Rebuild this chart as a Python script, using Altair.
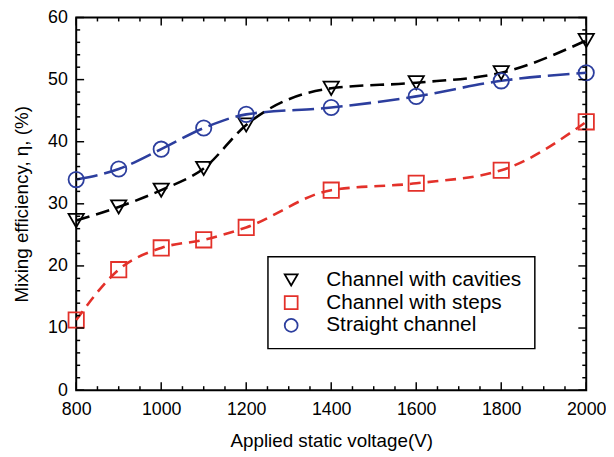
import altair as alt
import pandas as pd

# ---- data ----
voltage = [800, 900, 1000, 1100, 1200, 1400, 1600, 1800, 2000]
series_names = ["Channel with cavities", "Channel with steps", "Straight channel"]
cavities = [27.3, 29.5, 32.2, 35.7, 42.7, 48.6, 49.5, 51.1, 56.3]
steps = [11.3, 19.4, 22.9, 24.2, 26.2, 32.2, 33.3, 35.4, 43.2]
straight = [33.9, 35.6, 38.8, 42.2, 44.4, 45.5, 47.3, 49.8, 51.1]

x_major = [800, 1000, 1200, 1400, 1600, 1800, 2000]
x_minor = [v for v in range(800, 2001, 50) if v not in x_major]
y_major = [0, 10, 20, 30, 40, 50, 60]
y_minor = [v for v in range(0, 61, 2) if v not in y_major]

colors = ["#000000", "#e3312a", "#2c3e9e"]
shapes = ["triangle-down", "square", "circle"]
dashes = [[14, 7], [11, 7], [22, 7]]

rows = []
for name, vals in zip(series_names, [cavities, steps, straight]):
    for v, e in zip(voltage, vals):
        rows.append({"series": name, "voltage": v, "eff": e})
df = pd.DataFrame(rows)

W, H = 516, 377
FONT = "Liberation Sans"
xscale = alt.Scale(domain=[800, 2000], nice=False, zero=False)
yscale = alt.Scale(domain=[0, 60], nice=False, zero=False)

x_axis = alt.Axis(title="Applied static voltage(V)", values=x_major, format="d",
                  ticks=False, domain=False, grid=False, labelFlush=False,
                  labelFontSize=18, titleFontSize=19, labelPadding=11, titlePadding=13,
                  labelColor="black", titleColor="black", titleFontWeight="normal",
                  labelFont=FONT, titleFont=FONT)
y_axis = alt.Axis(title="Mixing efficiency, η, (%)", values=y_major, format="d",
                  ticks=False, domain=False, grid=False, labelFlush=False,
                  labelFontSize=18, titleFontSize=19, labelPadding=9, titlePadding=16,
                  labelColor="black", titleColor="black", titleFontWeight="normal",
                  labelFont=FONT, titleFont=FONT)
x_enc = alt.X("voltage:Q", scale=xscale, axis=x_axis)
y_enc = alt.Y("eff:Q", scale=yscale, axis=y_axis)

layers = []

# curves
for name, c, d in zip(series_names, colors, dashes):
    layers.append(
        alt.Chart(df[df["series"] == name]).mark_line(
            color=c, strokeDash=d, strokeWidth=2.6, interpolate="monotone"
        ).encode(x=x_enc, y=y_enc)
    )

legend = alt.Legend(
    title=None, orient="none", legendX=194, legendY=242,
    strokeColor="black", fillColor="white", padding=13,
    labelFontSize=21, labelFont=FONT, labelColor="black", labelLimit=400,
    symbolSize=170, symbolStrokeWidth=1.8, labelOffset=25, rowPadding=1,
)

# markers with legend
points = alt.Chart(df).mark_point(filled=False, size=240, strokeWidth=1.8, opacity=1).encode(
    x=x_enc, y=y_enc,
    color=alt.Color("series:N", scale=alt.Scale(domain=series_names, range=colors),
                    legend=legend),
    shape=alt.Shape("series:N", scale=alt.Scale(domain=series_names, range=shapes),
                    legend=legend),
)
layers.append(points)

# inward ticks on all four sides
def tick_layer(vals, axis, side, length):
    if axis == "x":
        d = pd.DataFrame({"voltage": vals})
        y0 = H if side == "bottom" else 0
        y1 = H - length if side == "bottom" else length
        enc = dict(x=x_enc, y=alt.value(y0), y2=alt.value(y1))
    else:
        d = pd.DataFrame({"eff": vals})
        x0 = 0 if side == "left" else W
        x1 = length if side == "left" else W - length
        enc = dict(y=y_enc, x=alt.value(x0), x2=alt.value(x1))
    return alt.Chart(d).mark_rule(color="black", strokeWidth=1.5).encode(**enc)

for side in ["bottom", "top"]:
    layers.append(tick_layer(x_major, "x", side, 8))
    layers.append(tick_layer(x_minor, "x", side, 4))
for side in ["left", "right"]:
    layers.append(tick_layer(y_major, "y", side, 8))
    layers.append(tick_layer(y_minor, "y", side, 4))

chart = alt.layer(*layers).properties(
    width=W, height=H,
    padding={"left": 69, "top": 7, "right": 20, "bottom": 62},
    autosize=alt.AutoSizeParams(type="none"),
).configure_view(
    stroke="black", strokeWidth=2
).configure_legend(
    strokeWidth=1.5,
)

chart.save("out.html", embed_options={"renderer": "svg", "actions": False})
